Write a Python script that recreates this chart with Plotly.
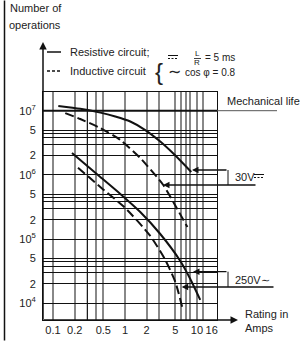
import plotly.graph_objects as go

# ---------------- data ----------------
x_30_res = [0.1185, 0.239, 0.454, 0.733, 1.185, 1.914, 3.09, 4.54, 5.86, 8.33]
y_30_res = [1.184e7, 1.07e7, 9.34e6, 8.12e6, 6.79e6, 5.0e6, 3.31e6, 2.23e6, 1.676e6, 1.11e6]
x_30_ind = [0.148, 0.239, 0.454, 0.861, 1.63, 3.40, 4.69, 7.36]
y_30_ind = [9.2e6, 7.43e6, 5.37e6, 3.5e6, 1.83e6, 6.97e5, 3.78e5, 1.54e5]
x_250_res = [0.1836, 0.454, 0.861, 1.63, 3.09, 5.86, 8.07, 11.1]
y_250_res = [2.193e6, 9.27e5, 5.04e5, 2.64e5, 1.2e5, 4.56e4, 2.39e4, 1.126e4]
x_250_ind = [0.2224, 0.454, 1.01, 2.246, 3.63, 5.0, 6.39]
y_250_ind = [1.295e6, 6.48e5, 3.05e5, 1.118e5, 4.73e4, 2.15e4, 7.86e3]

x_tickvals = [0.1, 0.2, 0.5, 1, 2, 5, 10, 16]
x_ticktext = ["0.1", "0.2", "0.5", "1", "2", "5", "10", "16"]
y_tickvals = [1e4, 2e4, 5e4, 1e5, 2e5, 5e5, 1e6, 2e6, 5e6, 1e7]
y_ticktext = ["10<sup>4</sup>", "2", "5", "10<sup>5</sup>", "2", "5",
              "10<sup>6</sup>", "2", "5", "10<sup>7</sup>"]
x_grid = [0.1, 0.2, 0.4, 0.5, 1, 2, 3, 5, 6, 7, 8, 10, 12]
y_grid_mult = [3, 3.8, 4.4]
y_grid_dec = [1e4, 1e5, 1e6]

FONT = "Liberation Sans, Arial, sans-serif"
W, H = 304, 341
L, R, T, B = 43, 87, 92, 21
PW, PH = W - L - R, H - T - B


def P(px, py):
    return (px - L) / PW, (H - B - py) / PH


fig = go.Figure()
line_kw = dict(color="#111", width=2, shape="spline", smoothing=0.6)
fig.add_trace(go.Scatter(x=x_30_res, y=y_30_res, mode="lines", line=dict(**line_kw)))
fig.add_trace(go.Scatter(x=x_30_ind, y=y_30_ind, mode="lines", line=dict(**line_kw, dash="9px,4px")))
fig.add_trace(go.Scatter(x=x_250_res, y=y_250_res, mode="lines", line=dict(**line_kw)))
fig.add_trace(go.Scatter(x=x_250_ind, y=y_250_ind, mode="lines", line=dict(**line_kw, dash="9px,4px")))

shapes = []
annotations = []


def pline(x0, y0, x1, y1, color="#111", width=1, dash=None):
    a0 = P(x0, y0)
    a1 = P(x1, y1)
    d = dict(type="line", xref="paper", yref="paper", x0=a0[0], y0=a0[1], x1=a1[0], y1=a1[1],
             line=dict(color=color, width=width))
    if dash:
        d["line"]["dash"] = dash
    shapes.append(d)


def ptext(px, py, text, size=11, xanchor="left"):
    a = P(px, py)
    annotations.append(dict(x=a[0], y=a[1], xref="paper", yref="paper", text=text, showarrow=False,
                            xanchor=xanchor, yanchor="middle",
                            font=dict(size=size, family=FONT, color="#222")))


def parrow(tipx, tipy, tailx, taily, width=1.3):
    a = P(tipx, tipy)
    annotations.append(dict(x=a[0], y=a[1], xref="paper", yref="paper", text="", showarrow=True,
                            ax=tailx - tipx, ay=taily - tipy, arrowhead=2, arrowsize=1,
                            arrowwidth=width, arrowcolor="#111"))


# special grid lines
shapes.append(dict(type="line", xref="x", yref="paper", x0=0.3, x1=0.3, y0=0, y1=1,
                   line=dict(color="#111", width=1.2), layer="below"))
shapes.append(dict(type="line", xref="paper", yref="y", x0=0, x1=1, y0=1e7, y1=1e7,
                   line=dict(color="#111", width=2)))
pline(217, 110.7, 277, 110.7, color="#555", width=1)

# frame line at the far left
pline(4.5, 0.5, 4.5, 340.5, color="#111", width=1.5)

# axis arrows
parrow(43, 42, 43, 321, width=1.5)
parrow(238, 320, 42, 320, width=1.5)

# 30V bracket
parrow(192, 170, 228, 170)
pline(228, 170, 228, 185)
parrow(163, 185, 257, 185)
ptext(233, 177, "30V")
pline(254, 174.5, 264, 174.5, width=1)
pline(254, 177.5, 264, 177.5, width=1, dash="2px,1.5px")

# 250V bracket
parrow(193, 271.7, 228, 271.7)
pline(228, 271.7, 228, 287)
parrow(181.7, 287, 275, 287)
ptext(233, 280, "250V∼")

# mechanical life
ptext(225, 101, "Mechanical life")

# legend
pline(47, 52, 61, 52, width=1.5)
ptext(68, 52, "Resistive circuit;")
pline(47, 71, 61, 71, width=1.5, dash="3px,2px")
ptext(68, 71, "Inductive circuit")
ptext(153, 71, "{", size=24)
pline(168, 55.5, 178, 55.5, width=1)
pline(168, 58.5, 178, 58.5, width=1, dash="2px,1.5px")
ptext(197, 54, "L", size=8, xanchor="center")
pline(194, 58.5, 201, 58.5, width=0.8)
ptext(197, 62.5, "R", size=8, xanchor="center")
ptext(203, 58, "= 5 ms", size=10)
ptext(166, 71.5, "∼", size=16)
ptext(183, 72.5, "cos φ = 0.8", size=10)

# titles
ptext(8, 8, "Number of")
ptext(7, 25, "operations")
ptext(243, 314, "Rating in")
ptext(243, 328, "Amps")

fig.update_layout(
    width=W, height=H, margin=dict(l=L, r=R, t=T, b=B, pad=0, autoexpand=False),
    paper_bgcolor="white", plot_bgcolor="white", showlegend=False,
    font=dict(family=FONT, size=11, color="#222"),
    shapes=shapes, annotations=annotations,
    xaxis=dict(type="log", range=[-1.139, 1.278], tickmode="array", tickvals=x_tickvals,
               ticktext=x_ticktext, showgrid=False, zeroline=False, showline=True,
               linecolor="#111", linewidth=1, mirror=True, ticks="", automargin=False,
               tickfont=dict(size=11, family=FONT, color="#222"),
               minor=dict(tickmode="array", tickvals=x_grid, showgrid=True,
                          gridcolor="#888", gridwidth=1.5, ticks="")),
    yaxis=dict(type="log", range=[3.739, 7.292], tickmode="array", tickvals=y_tickvals,
               ticktext=y_ticktext, showgrid=True, gridcolor="#111", gridwidth=1,
               zeroline=False, showline=True, linecolor="#111", linewidth=1, mirror=True,
               ticks="", ticklabelstandoff=4, automargin=False,
               tickfont=dict(size=11, family=FONT, color="#222"),
               minor=dict(tickmode="array",
                          tickvals=[m * d for d in y_grid_dec for m in y_grid_mult],
                          showgrid=True, gridcolor="#111", gridwidth=1, ticks="")),
)

fig.write_html("out.html", config={"displayModeBar": False},
               post_script="document.body.style.margin='0';")
